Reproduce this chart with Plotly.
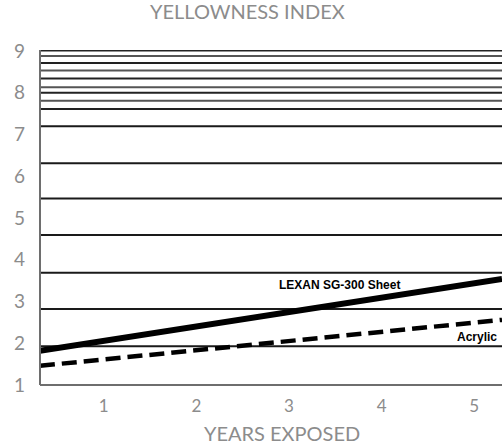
import plotly.graph_objects as go

# ---- data ----
years_lexan = [0.31, 5.30]
yi_lexan = [1.82, 3.54]
years_acrylic = [0.31, 5.30]
yi_acrylic = [1.46, 2.56]
x_ticks = [1, 2, 3, 4, 5]
y_ticks = [1, 2, 3, 4, 5, 6, 7, 8, 9]
grid_main = [1.93, 2.82, 3.69, 4.59, 5.47, 6.31, 7.20]
grid_top = [7.61, 7.81, 8.00, 8.13, 8.34, 8.53, 8.71, 8.88, 9.01]
series_labels = ["LEXAN SG-300 Sheet", "Acrylic"]

fig = go.Figure()

fig.add_trace(go.Scatter(x=years_lexan, y=yi_lexan, mode="lines",
                         line=dict(color="black", width=6), name=series_labels[0],
                         showlegend=False))
fig.add_trace(go.Scatter(x=years_acrylic, y=yi_acrylic, mode="lines",
                         line=dict(color="black", width=4.5, dash="15px,7px"),
                         name=series_labels[1], showlegend=False))

shapes = []
for g in grid_main:
    shapes.append(dict(type="line", xref="paper", x0=0, x1=1, yref="y", y0=g, y1=g,
                       line=dict(color="#1a1a1a", width=2), layer="below"))
for i, g in enumerate(grid_top):
    shapes.append(dict(type="line", xref="paper", x0=0, x1=1, yref="y", y0=g, y1=g,
                       line=dict(color="#555555" if i % 2 else "#222222", width=2),
                       layer="below"))
# left axis line and bottom axis line
shapes.append(dict(type="line", xref="paper", x0=0, x1=0, yref="paper", y0=0, y1=1,
                   line=dict(color="#6e6e6e", width=2)))
shapes.append(dict(type="line", xref="paper", x0=0, x1=1, yref="paper", y0=0, y1=0,
                   line=dict(color="#6e6e6e", width=2)))

FONT = "Lato, 'Open Sans', sans-serif"
GREY = "#8c8c8c"

fig.update_layout(
    width=502, height=448,
    margin=dict(l=40, r=0, t=50, b=63),
    paper_bgcolor="white", plot_bgcolor="white",
    shapes=shapes,
    xaxis=dict(range=[0.311, 5.30], tickvals=x_ticks, ticktext=[str(v) for v in x_ticks],
               showgrid=False, zeroline=False, showline=False, ticks="",
               tickfont=dict(family=FONT, size=17, color=GREY), ticklabelstandoff=9),
    yaxis=dict(range=[1.0, 9.024], tickvals=y_ticks, ticktext=[str(v) for v in y_ticks],
               showgrid=False, zeroline=False, showline=False, ticks="",
               tickfont=dict(family=FONT, size=19, color=GREY), ticklabelstandoff=14),
    annotations=[
        dict(text="YELLOWNESS INDEX", xref="paper", yref="paper", x=(247 - 40) / 462, y=1,
             yshift=39, xanchor="center", yanchor="middle", showarrow=False,
             font=dict(family=FONT, size=20, color=GREY)),
        dict(text="YEARS EXPOSED", xref="paper", yref="paper", x=(282 - 40) / 462, y=0,
             yshift=-48, xanchor="center", yanchor="middle", showarrow=False,
             font=dict(family=FONT, size=20, color=GREY)),
        dict(text="<b>" + series_labels[0] + "</b>", x=3.54, y=3.40, xref="x", yref="y",
             xanchor="center", yanchor="middle", showarrow=False,
             font=dict(family="Liberation Sans, Arial, sans-serif", size=12, color="black")),
        dict(text="<b>" + series_labels[1] + "</b>", x=5.27, y=2.15, xref="x", yref="y",
             xanchor="right", yanchor="middle", showarrow=False,
             font=dict(family="Liberation Sans, Arial, sans-serif", size=12, color="black")),
    ],
)

fig.write_html("out.html", config={"displayModeBar": False},
               post_script="document.body.style.margin='0';document.body.style.overflow='hidden';")
